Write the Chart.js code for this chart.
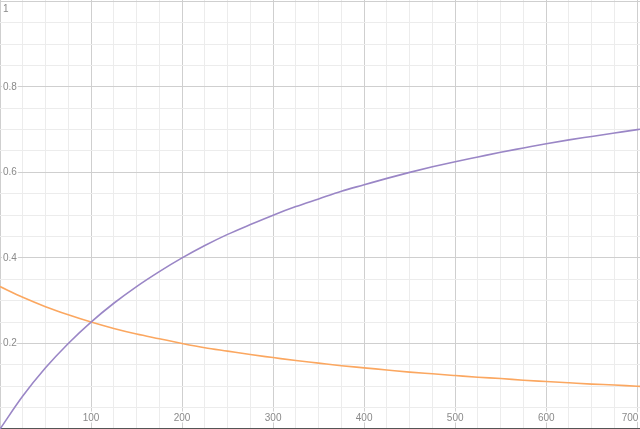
<!DOCTYPE html>
<html>
<head>
<meta charset="utf-8">
<script src="https://cdn.jsdelivr.net/npm/chart.js@4/dist/chart.umd.min.js"></script>
<style>
  html, body { margin: 0; padding: 0; background: #fff; }
  #wrap { width: 640px; height: 429px; position: relative; }
</style>
</head>
<body>
<div id="wrap"><canvas id="graph"></canvas></div>
<script>
// sample points
const xValues = [0, 25, 50, 75, 100, 125, 150, 175, 200, 225, 250, 275, 300, 325, 350, 375, 400, 425, 450, 475, 500, 525, 550, 575, 600, 625, 650, 675, 700, 725]
const purpleValues = [0, 0.077, 0.143, 0.2, 0.25, 0.294, 0.333, 0.368, 0.4, 0.429, 0.455, 0.478, 0.5, 0.52, 0.538, 0.556, 0.571, 0.586, 0.6, 0.613, 0.625, 0.636, 0.647, 0.657, 0.667, 0.676, 0.684, 0.692, 0.7, 0.707]
const orangeValues = [0.333, 0.308, 0.286, 0.267, 0.25, 0.235, 0.222, 0.211, 0.2, 0.19, 0.182, 0.174, 0.167, 0.16, 0.154, 0.148, 0.143, 0.138, 0.133, 0.129, 0.125, 0.121, 0.118, 0.114, 0.111, 0.108, 0.105, 0.103, 0.1, 0.098]

const xLabels = [100, 200, 300, 400, 500, 600, 700]
const yLabels = [0.2, 0.4, 0.6, 0.8, 1]

const toPoints = (ys) => xValues.map((x, i) => ({ x, y: ys[i] }))

const makeTicks = (from, to, step) => {
  const list = []
  for (let i = 0; from + i * step <= to + 1e-9; i++) list.push({ value: +(from + i * step).toFixed(4) })
  return list
}

// labels drawn over the grid with a white halo, like the original
const labelPlugin = {
  id: 'labels',
  afterDatasetsDraw(chart) {
    const { ctx, scales } = chart
    ctx.save()
    ctx.font = '10px "Liberation Sans", Arial, sans-serif'
    ctx.fillStyle = '#8a8a8a'
    ctx.strokeStyle = '#fff'
    ctx.lineWidth = 3
    ctx.lineJoin = 'round'

    ctx.textAlign = 'left'
    ctx.textBaseline = 'middle'
    yLabels.forEach((v) => {
      let y = scales.y.getPixelForValue(v)
      if (y < 9) y = 9
      const t = String(v)
      ctx.strokeText(t, 3, y)
      ctx.fillText(t, 3, y)
    })

    ctx.textAlign = 'center'
    xLabels.forEach((v) => {
      let x = scales.x.getPixelForValue(v)
      if (x > chart.width - 10) x = chart.width - 10
      const t = String(v)
      ctx.strokeText(t, x, 418)
      ctx.fillText(t, x, 418)
    })
    ctx.restore()
  }
}

const gridColor = (major) => (c) => {
  const v = c.tick ? c.tick.value : 0
  return Math.abs(v / major - Math.round(v / major)) < 1e-6 ? '#cfcfcf' : '#ececec'
}

new Chart(document.getElementById('graph'), {
  type: 'line',
  data: {
    datasets: [
      {
        data: toPoints(purpleValues),
        borderColor: '#9a86c6',
        borderWidth: 1.6,
        pointRadius: 0,
        cubicInterpolationMode: 'monotone',
        fill: false
      },
      {
        data: toPoints(orangeValues),
        borderColor: '#fba760',
        borderWidth: 1.6,
        pointRadius: 0,
        cubicInterpolationMode: 'monotone',
        fill: false
      }
    ]
  },
  options: {
    responsive: true,
    maintainAspectRatio: false,
    animation: false,
    layout: { padding: 0 },
    plugins: { legend: { display: false }, tooltip: { enabled: false } },
    scales: {
      x: {
        type: 'linear',
        min: 0,
        max: 703,
        afterBuildTicks: (s) => { s.ticks = makeTicks(0, 703, 25) },
        ticks: { display: false },
        grid: { color: gridColor(100), drawTicks: false, lineWidth: 1 },
        border: { display: true, color: '#555', width: 1.5 }
      },
      y: {
        type: 'linear',
        min: 0,
        max: 1.003,
        afterBuildTicks: (s) => { s.ticks = makeTicks(0, 1, 0.05) },
        ticks: { display: false },
        grid: { color: gridColor(0.2), drawTicks: false, lineWidth: 1 },
        border: { display: false }
      }
    }
  },
  plugins: [labelPlugin]
})
</script>
</body>
</html>
